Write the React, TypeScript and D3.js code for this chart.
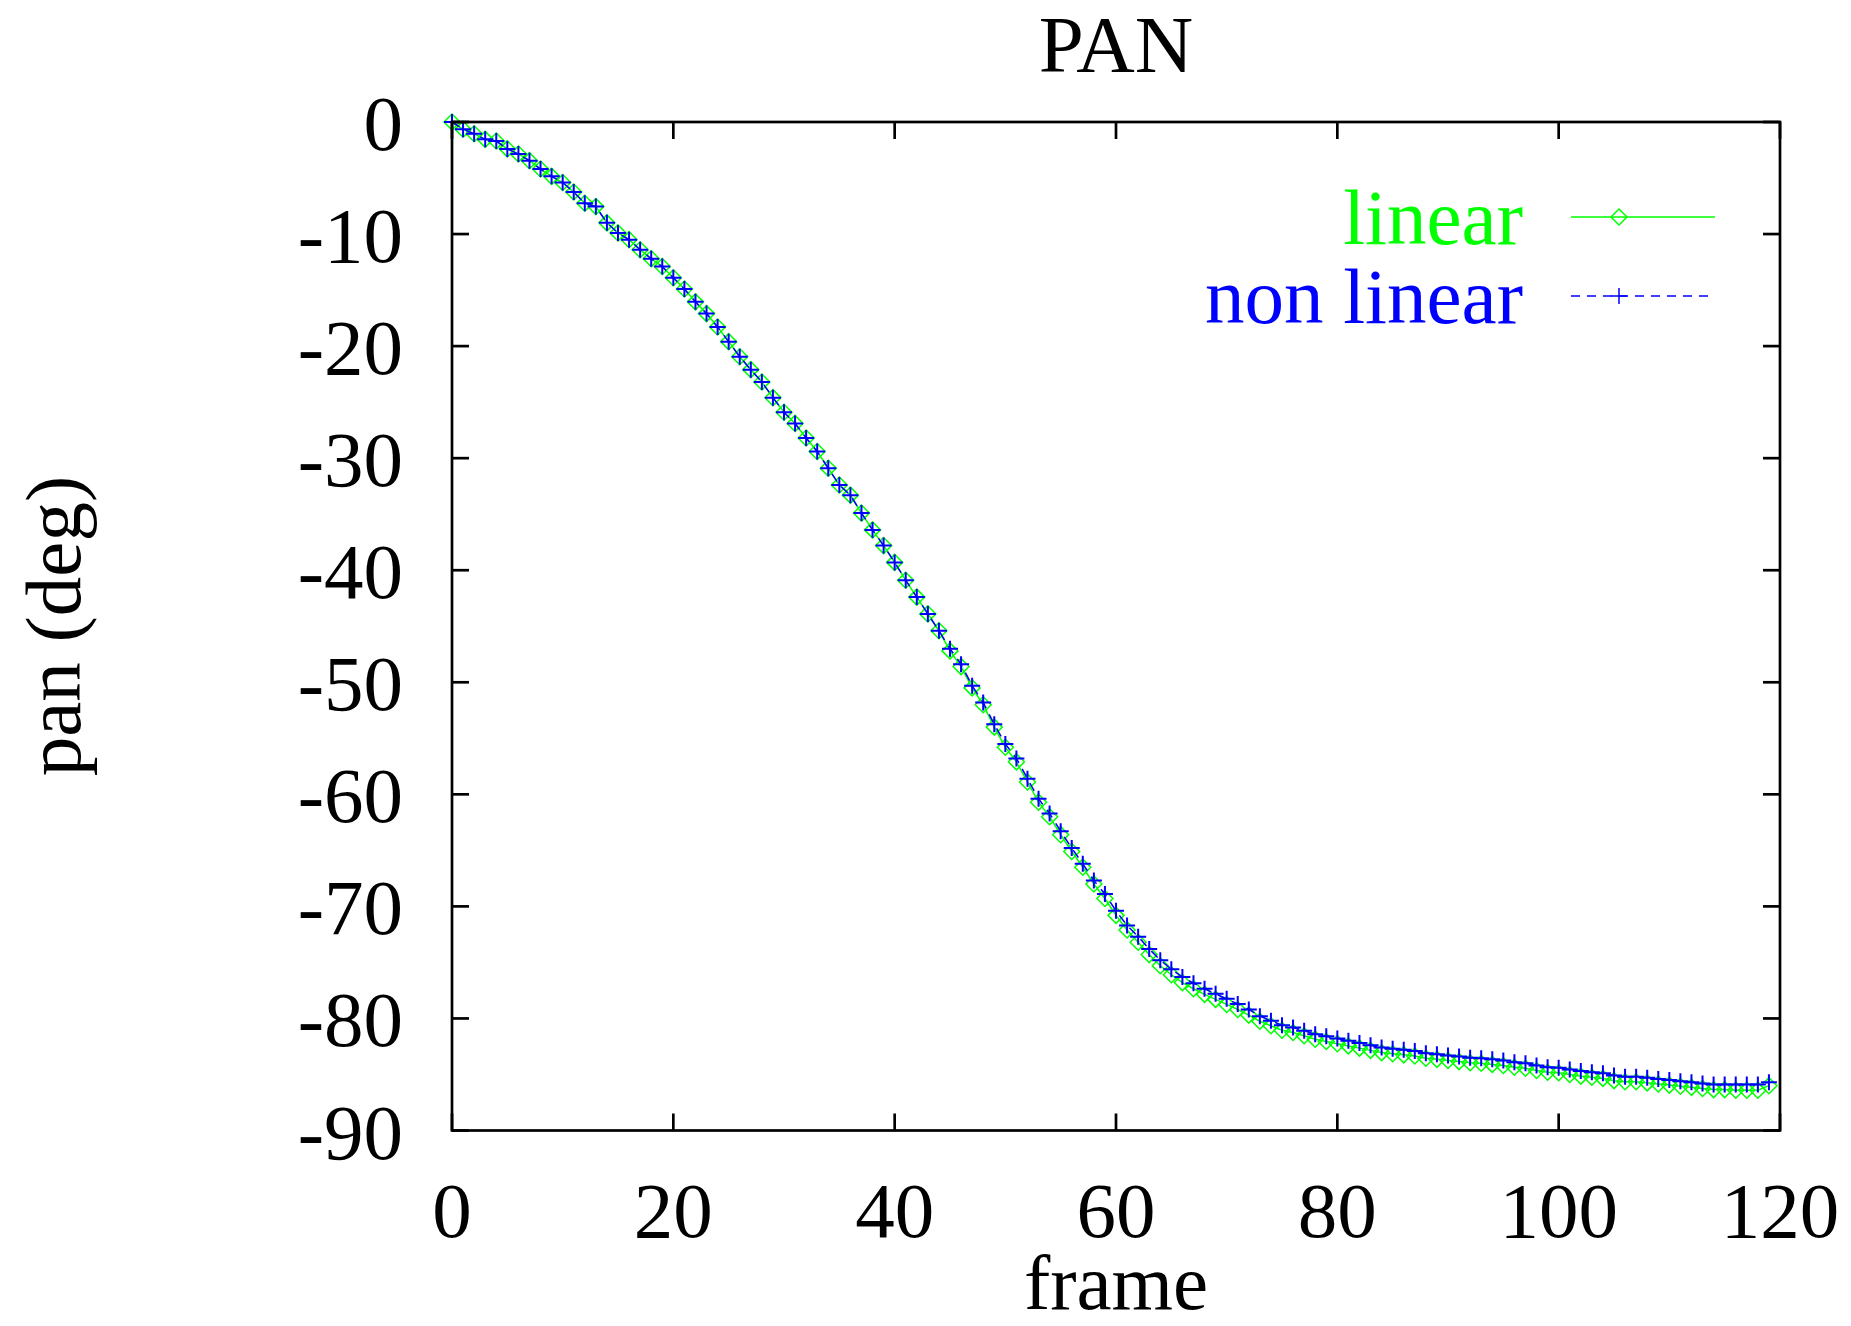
import React from "react";
import * as d3 from "d3";

const title = "PAN";
const xLabel = "frame";
const yLabel = "pan (deg)";
const xTicks = [0, 20, 40, 60, 80, 100, 120];
const yTicks = [0, -10, -20, -30, -40, -50, -60, -70, -80, -90];
const seriesNames = ["linear", "non linear"];

const nonLinear = [
  0, -0.65, -1.05, -1.55, -1.7, -2.4, -2.85, -3.45, -4.2, -4.85,
  -5.4, -6.25, -7.25, -7.55, -9.0, -9.9, -10.5, -11.4, -12.2, -12.9,
  -13.9, -14.9, -16.05, -17.1, -18.3, -19.6, -20.95, -22.1, -23.2, -24.6,
  -25.9, -26.9, -28.2, -29.4, -30.9, -32.4, -33.3, -34.9, -36.4, -37.8,
  -39.3, -40.9, -42.4, -43.9, -45.4, -47.0, -48.4, -50.3, -51.8, -53.75,
  -55.5, -56.8, -58.6, -60.4, -61.7, -63.3, -64.8, -66.2, -67.7, -68.9,
  -70.4, -71.7, -72.7, -73.8, -74.8, -75.6, -76.3, -76.85, -77.35, -77.8,
  -78.25, -78.7, -79.2, -79.8, -80.2, -80.6, -80.8, -81.1, -81.4, -81.6,
  -81.8, -82.0, -82.2, -82.4, -82.6, -82.7, -82.8, -82.9, -83.1, -83.2,
  -83.3, -83.4, -83.5, -83.55, -83.65, -83.75, -83.9, -84.0, -84.2, -84.35,
  -84.4, -84.55, -84.7, -84.8, -84.9, -85.1, -85.2, -85.2, -85.3, -85.4,
  -85.5, -85.6, -85.7, -85.8, -85.9, -85.9, -85.9, -85.9, -85.9, -85.7,
];

const linear = [
  0, -0.65, -1.05, -1.55, -1.7, -2.4, -2.85, -3.45, -4.2, -4.85,
  -5.4, -6.25, -7.25, -7.55, -9.0, -9.9, -10.5, -11.4, -12.2, -12.9,
  -13.9, -14.9, -16.05, -17.1, -18.3, -19.6, -20.95, -22.1, -23.2, -24.6,
  -25.9, -26.9, -28.2, -29.4, -30.9, -32.4, -33.3, -34.9, -36.4, -37.8,
  -39.3, -40.9, -42.4, -43.9, -45.4, -47.2, -48.6, -50.5, -52.0, -54.0,
  -55.8, -57.1, -58.9, -60.7, -62.0, -63.6, -65.1, -66.5, -68.0, -69.3,
  -70.8, -72.1, -73.2, -74.3, -75.3, -76.1, -76.8, -77.35, -77.85, -78.3,
  -78.75, -79.2, -79.7, -80.25, -80.65, -81.05, -81.25, -81.55, -81.85, -82.05,
  -82.25, -82.45, -82.65, -82.85, -83.05, -83.15, -83.25, -83.35, -83.55, -83.65,
  -83.75, -83.85, -83.95, -84.0, -84.1, -84.2, -84.35, -84.45, -84.65, -84.8,
  -84.85, -85.0, -85.15, -85.25, -85.35, -85.55, -85.65, -85.65, -85.75, -85.85,
  -85.95, -86.05, -86.15, -86.25, -86.35, -86.35, -86.4, -86.4, -86.4, -86.0,
];

const W = 1851;
const H = 1326;
const L = 452;
const R = 1780;
const T = 122;
const B = 1130.5;
const FONT = "'Liberation Serif', 'Times New Roman', serif";
const FS = 79;
const GREEN = "#00ff00";
const BLUE = "#0000ff";

export default function App() {
  const x = d3.scaleLinear().domain([0, 120]).range([L, R]);
  const y = d3.scaleLinear().domain([-90, 0]).range([B, T]);
  const line = d3
    .line<number>()
    .x((_, i) => x(i))
    .y((d) => y(d));
  const tickLen = 17;
  const ms = 8;

  const diamond = (cx: number, cy: number) =>
    `M${cx - ms},${cy}L${cx},${cy - ms}L${cx + ms},${cy}L${cx},${cy + ms}Z`;
  const plus = (cx: number, cy: number) =>
    `M${cx - ms},${cy}H${cx + ms}M${cx},${cy - ms}V${cy + ms}`;

  const legY = [217, 296];
  const legX0 = 1571;
  const legX1 = 1715;
  const legM = 1619;

  return (
    <svg
      width={W}
      height={H}
      style={{ position: "absolute", left: 0, top: 0, background: "#fff" }}
      fontFamily={FONT}
    >
      <rect x={0} y={0} width={W} height={H} fill="#fff" />
      <text x={(L + R) / 2} y={72} fontSize={81} textAnchor="middle">
        {title}
      </text>

      {/* data */}
      <path d={line(linear) || ""} fill="none" stroke={GREEN} strokeWidth={1.5} />
      {linear.map((v, i) => (
        <path key={"g" + i} d={diamond(x(i), y(v))} fill="none" stroke={GREEN} strokeWidth={1.5} />
      ))}
      <path
        d={line(nonLinear) || ""}
        fill="none"
        stroke={BLUE}
        strokeWidth={1.5}
        strokeDasharray="9,7"
      />
      {nonLinear.map((v, i) => (
        <path key={"b" + i} d={plus(x(i), y(v))} fill="none" stroke={BLUE} strokeWidth={2} />
      ))}

      {/* frame */}
      <rect x={L} y={T} width={R - L} height={B - T} fill="none" stroke="#000" strokeWidth={2.7} />
      {yTicks.map((t) => (
        <g key={"y" + t}>
          <line x1={L} x2={L + tickLen} y1={y(t)} y2={y(t)} stroke="#000" strokeWidth={2.7} />
          <line x1={R} x2={R - tickLen} y1={y(t)} y2={y(t)} stroke="#000" strokeWidth={2.7} />
          <text x={403} y={y(t) + 28} fontSize={FS} textAnchor="end">
            {String(t)}
          </text>
        </g>
      ))}
      {xTicks.map((t) => (
        <g key={"x" + t}>
          <line x1={x(t)} x2={x(t)} y1={B} y2={B - tickLen} stroke="#000" strokeWidth={2.7} />
          <line x1={x(t)} x2={x(t)} y1={T} y2={T + tickLen} stroke="#000" strokeWidth={2.7} />
          <text x={x(t)} y={1237} fontSize={FS} textAnchor="middle">
            {String(t)}
          </text>
        </g>
      ))}
      <text x={(L + R) / 2} y={1309} fontSize={FS} textAnchor="middle">
        {xLabel}
      </text>
      <text
        transform={`translate(80, ${626}) rotate(-90)`}
        fontSize={FS}
        textAnchor="middle"
      >
        {yLabel}
      </text>

      {/* legend */}
      <text x={1523} y={legY[0] + 27} fontSize={FS} textAnchor="end" fill={GREEN}>
        {seriesNames[0]}
      </text>
      <line x1={legX0} x2={legX1} y1={legY[0]} y2={legY[0]} stroke={GREEN} strokeWidth={1.5} />
      <path d={diamond(legM, legY[0])} fill="none" stroke={GREEN} strokeWidth={1.5} />
      <text x={1523} y={legY[1] + 27} fontSize={FS} textAnchor="end" fill={BLUE}>
        {seriesNames[1]}
      </text>
      <line
        x1={legX0}
        x2={legX1}
        y1={legY[1]}
        y2={legY[1]}
        stroke={BLUE}
        strokeWidth={1.5}
        strokeDasharray="9,7"
      />
      <path d={plus(legM, legY[1])} fill="none" stroke={BLUE} strokeWidth={1.5} />
    </svg>
  );
}
